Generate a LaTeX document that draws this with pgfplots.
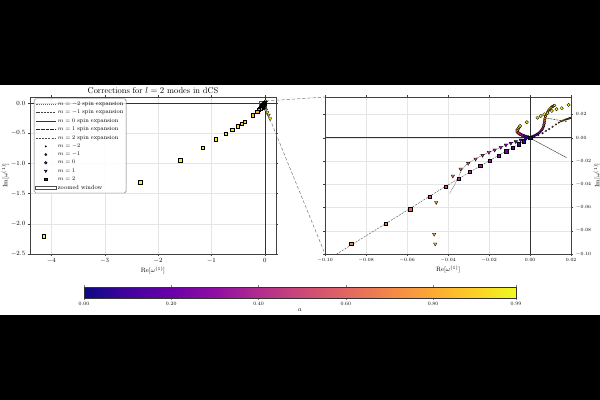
\documentclass[border=0pt]{standalone}
\usepackage{pgfplots}
\pgfplotsset{compat=1.18}
\usepackage{pgfplotstable}

\pgfplotsset{
  colormap={plasma}{rgb255=(13,8,135) rgb255=(65,4,157) rgb255=(106,0,168)
    rgb255=(143,13,164) rgb255=(177,42,144) rgb255=(204,71,120)
    rgb255=(225,100,98) rgb255=(242,132,75) rgb255=(252,166,54)
    rgb255=(252,206,37) rgb255=(240,249,33)},
  dcsbase/.style={
    scale only axis,
    width=307.5pt, height=196.25pt,
    grid=major,
    grid style={black!10, line width=0.3pt},
    axis line style={black!75, line width=0.5pt},
    tick style={black!75, line width=0.4pt},
    tick align=outside,
    major tick length=2.5pt,
    point meta min=0, point meta max=0.99,
    colormap name=plasma,
    clip=true,
  },
  pts/.style={scatter, only marks, forget plot, point meta=explicit,
    scatter/use mapped color={draw=black, fill=mapped color, line width=0.4pt}},
  sq/.style={pts, mark=square*, mark size=2.1pt},
  tri/.style={pts, mark=triangle*, mark size=2.5pt, mark options={rotate=180}},
  cir/.style={pts, mark=*, mark size=2.1pt},
  hex/.style={pts, mark=*, mark size=1.7pt},
  dot/.style={pts, mark=*, mark size=1.0pt},
  spm2/.style={black!60, dotted, line width=0.45pt},
  spm1/.style={black!75, dash pattern=on 2.5pt off 1.2pt, line width=0.7pt},
  spz/.style={black!80, line width=0.5pt},
  spp1/.style={black!85, densely dotted, line width=0.6pt},
  spp2/.style={black!70, dash pattern=on 2.5pt off 1.5pt, line width=0.5pt},
}

% m = 2, squares
\pgfplotstableread{
x y a
0 0 0
-0.0030 -0.0031 0.05
-0.0057 -0.0057 0.10
-0.0085 -0.0086 0.15
-0.0116 -0.0117 0.20
-0.0152 -0.0155 0.25
-0.0196 -0.0195 0.30
-0.0243 -0.0238 0.35
-0.0295 -0.0290 0.40
-0.0350 -0.0353 0.45
-0.0413 -0.0419 0.50
-0.0489 -0.0509 0.55
-0.0585 -0.0615 0.60
-0.0706 -0.0741 0.65
-0.0873 -0.0914 0.70
-0.110 -0.113 0.75
-0.141 -0.145 0.80
-0.226 -0.200 0.85
-0.381 -0.312 0.90
-0.439 -0.345 0.91
-0.509 -0.383 0.92
-0.613 -0.440 0.93
-0.735 -0.507 0.94
-0.915 -0.600 0.95
-1.166 -0.740 0.96
-1.586 -0.945 0.97
-2.334 -1.312 0.98
-4.145 -2.207 0.99
}\mtwo

% m = 1, triangles
\pgfplotstableread{
x y a
0 0 0
-0.0021 -0.0009 0.05
-0.0046 -0.0020 0.10
-0.0070 -0.0034 0.15
-0.0094 -0.0048 0.20
-0.0118 -0.0063 0.25
-0.0143 -0.0083 0.30
-0.0173 -0.0106 0.35
-0.0201 -0.0126 0.40
-0.0232 -0.0152 0.45
-0.0266 -0.0184 0.50
-0.0302 -0.0221 0.55
-0.0339 -0.0270 0.60
-0.0377 -0.0330 0.65
-0.0458 -0.0557 0.75
-0.0468 -0.0830 0.80
-0.0463 -0.0914 0.85
0.020 -0.117 0.90
0.045 -0.156 0.93
0.070 -0.200 0.96
0.100 -0.260 0.99
}\mone

% m = 0, circles
\pgfplotstableread{
x y a
0 0 0
-0.0010 0.0005 0.05
-0.0020 0.0010 0.10
-0.0030 0.0016 0.20
-0.0040 0.0022 0.30
-0.0049 0.0030 0.40
-0.0056 0.0038 0.50
-0.0061 0.0047 0.60
-0.0063 0.0057 0.70
-0.0062 0.0066 0.75
-0.0058 0.0077 0.80
-0.0054 0.0088 0.85
-0.0049 0.0101 0.90
-0.0016 0.0133 0.91
0.0036 0.0172 0.92
0.0052 0.0187 0.93
0.0069 0.0202 0.94
0.0085 0.0210 0.95
0.0106 0.0230 0.96
0.0129 0.0245 0.97
0.0154 0.0253 0.98
0.0188 0.0282 0.99
}\mzero

% m = -1
\pgfplotstableread{
x y a
0 0 0
0.0008 0.0006 0.05
0.0016 0.0013 0.10
0.0024 0.0020 0.15
0.0032 0.0028 0.20
0.0040 0.0037 0.25
0.0047 0.0047 0.30
0.0053 0.0058 0.35
0.0058 0.0070 0.40
0.0062 0.0083 0.45
0.0065 0.0096 0.50
0.0067 0.0110 0.55
0.0069 0.0124 0.60
0.0070 0.0138 0.65
0.0071 0.0152 0.70
0.0073 0.0167 0.75
0.0076 0.0183 0.80
0.0080 0.0203 0.85
0.0086 0.0222 0.90
0.0089 0.0232 0.91
0.0093 0.0242 0.92
0.0097 0.0250 0.93
0.0102 0.0258 0.94
0.0106 0.0264 0.95
0.0110 0.0268 0.96
0.0114 0.0272 0.97
0.0117 0.0275 0.98
0.0120 0.0278 0.99
}\mmone

% m = -2
\pgfplotstableread{
x y a
0 0 0
0.0020 0.0008 0.10
0.0040 0.0022 0.20
0.0061 0.0038 0.30
0.0077 0.0058 0.40
0.0093 0.0074 0.50
0.0110 0.0094 0.60
0.0126 0.0114 0.70
0.0140 0.0130 0.80
0.0150 0.0140 0.85
0.0158 0.0146 0.90
0.0165 0.0151 0.91
0.0171 0.0155 0.92
0.0176 0.0158 0.93
0.0180 0.0160 0.94
0.0184 0.0162 0.95
0.0188 0.0164 0.96
0.0191 0.0166 0.97
0.0194 0.0168 0.98
0.0197 0.0170 0.99
}\mmtwo

\newcommand{\spinlines}{%
  \addplot[spm2, forget plot] coordinates {(0,0) (0.006,0.0040) (0.012,0.0105) (0.0165,0.0150) (0.020,0.0175)};
  \addplot[spm1, forget plot] coordinates {(0.0085,0.0167) (0.0130,0.0153) (0.0178,0.0138)};
  \addplot[spz, forget plot] coordinates {(-0.0050,0.0043) (0,-0.0004) (0.0178,-0.0172)};
  \addplot[spp1, forget plot] coordinates {(0,0) (-0.0100,-0.0050) (-0.0200,-0.0125) (-0.0270,-0.0185) (-0.0310,-0.0230) (-0.0335,-0.0280) (-0.0348,-0.0336) (-0.0370,-0.0410) (-0.0392,-0.0479)};
  \addplot[spp2, forget plot] coordinates {(0,0) (-0.0196,-0.0195) (-0.0413,-0.0419) (-0.0706,-0.0741) (-0.0943,-0.1000)};
}
\newcommand{\allpoints}{%
  \addplot[dot] table[x=x, y=y, meta=a] {\mmtwo};
  \addplot[hex] table[x=x, y=y, meta=a] {\mmone};
  \addplot[cir] table[x=x, y=y, meta=a] {\mzero};
  \addplot[tri] table[x=x, y=y, meta=a] {\mone};
  \addplot[sq]  table[x=x, y=y, meta=a] {\mtwo};
}

\begin{document}
\begin{tikzpicture}
\fill[white] (0pt,0pt) rectangle (750pt,500pt);
\fill[black] (0pt,0pt) rectangle (750pt,106.25pt);
\fill[black] (0pt,393.75pt) rectangle (750pt,500pt);
\path[use as bounding box] (0pt,0pt) rectangle (750pt,500pt);

% ---- main panel
\begin{axis}[dcsbase,
  at={(37.5pt,182.5pt)}, anchor=south west,
  xmin=-4.4, xmax=0.21, ymin=-2.5, ymax=0.1,
  xtick={-4,-3,-2,-1,0}, ytick={-2.5,-2,-1.5,-1,-0.5,0},
  yticklabel style={/pgf/number format/fixed, /pgf/number format/fixed zerofill, /pgf/number format/precision=1},
  tick label style={font=\fontsize{8}{9}\selectfont},
  label style={font=\fontsize{8}{9}\selectfont},
  xlabel={$\mathrm{Re}[\omega^{(1)}]$}, ylabel={$\mathrm{Im}[\omega^{(1)}]$},
  xlabel style={yshift=3pt}, ylabel style={yshift=-4pt},
  title={Corrections for $l=2$ modes in dCS},
  title style={font=\fontsize{10.5}{12}\selectfont, yshift=-5pt},
  legend cell align=left,
  legend style={at={(0.016,0.99)}, anchor=north west,
    font=\fontsize{7.5}{8}\selectfont, draw=black!55, line width=0.5pt,
    rounded corners=2pt, fill=white, fill opacity=0.85, text opacity=1,
    row sep=0.2pt, inner sep=1.4pt},
  legend image code/.code={\draw[mark repeat=2,mark phase=2,#1] plot coordinates {(0cm,0cm) (0.45cm,0cm) (0.9cm,0cm)};},
]
\draw[black!80, line width=0.5pt] (axis cs:0,-3) -- (axis cs:0,1);
\draw[black!80, line width=0.5pt] (axis cs:-5,0) -- (axis cs:1,0);
\spinlines
\allpoints
\draw[black!70, line width=0.5pt] (axis cs:-0.1,-0.1) rectangle (axis cs:0.02,0.035);
\coordinate (zr1) at (axis cs:0.02,0.035);
\coordinate (zr2) at (axis cs:0.02,-0.1);

\addlegendimage{spm2}\addlegendentry{$m=-2$ spin expansion}
\addlegendimage{spm1}\addlegendentry{$m=-1$ spin expansion}
\addlegendimage{spz}\addlegendentry{$m=0$ spin expansion}
\addlegendimage{spp1}\addlegendentry{$m=1$ spin expansion}
\addlegendimage{spp2}\addlegendentry{$m=2$ spin expansion}
\addlegendimage{only marks, mark=*, mark size=0.9pt, draw=black, fill={rgb,255:red,13;green,8;blue,135}}\addlegendentry{$m=-2$}
\addlegendimage{only marks, mark=*, mark size=1.4pt, draw=black, fill={rgb,255:red,13;green,8;blue,135}}\addlegendentry{$m=-1$}
\addlegendimage{only marks, mark=*, mark size=1.8pt, draw=black, fill={rgb,255:red,13;green,8;blue,135}}\addlegendentry{$m=0$}
\addlegendimage{only marks, mark=triangle*, mark size=2pt, mark options={rotate=180}, draw=black, fill={rgb,255:red,13;green,8;blue,135}}\addlegendentry{$m=1$}
\addlegendimage{only marks, mark=square*, mark size=1.7pt, draw=black, fill={rgb,255:red,13;green,8;blue,135}}\addlegendentry{$m=2$}
\addlegendimage{legend image code/.code={\draw[black!70, fill=white, sharp corners] (0cm,-0.08cm) rectangle (0.9cm,0.08cm);}}\addlegendentry{zoomed window}
\end{axis}

% ---- zoomed panel
\begin{axis}[dcsbase,
  at={(406.25pt,182.5pt)}, anchor=south west,
  xmin=-0.1, xmax=0.02, ymin=-0.1, ymax=0.035,
  xtick={-0.1,-0.08,-0.06,-0.04,-0.02,0,0.02},
  ytick={-0.1,-0.08,-0.06,-0.04,-0.02,0,0.02},
  yticklabel pos=right,
  ticklabel style={/pgf/number format/fixed, /pgf/number format/fixed zerofill, /pgf/number format/precision=2},
  tick label style={font=\fontsize{6.5}{7}\selectfont},
  label style={font=\fontsize{8}{9}\selectfont},
  xlabel={$\mathrm{Re}[\omega^{(1)}]$}, ylabel={$\mathrm{Im}[\omega^{(1)}]$},
  xlabel style={yshift=3pt}, ylabel style={yshift=4pt},
]
\draw[black!80, line width=0.5pt] (axis cs:0,-1) -- (axis cs:0,1);
\draw[black!80, line width=0.5pt] (axis cs:-1,0) -- (axis cs:1,0);
\spinlines
\allpoints
\coordinate (in1) at (rel axis cs:0,1);
\coordinate (in2) at (rel axis cs:0,0);
\end{axis}

\draw[black!55, line width=0.6pt, dash pattern=on 4pt off 2.5pt] (zr1) -- (in1);
\draw[black!55, line width=0.6pt, dash pattern=on 4pt off 2.5pt] (zr2) -- (in2);

% ---- colour bar
\begin{axis}[
  scale only axis, at={(105pt,127.5pt)}, anchor=south west,
  width=540pt, height=13.75pt,
  xmin=0, xmax=0.99, ymin=0, ymax=1,
  ytick=\empty,
  xtick={0,0.2,0.4,0.6,0.8,0.99},
  xticklabels={0.00,0.20,0.40,0.60,0.80,0.99},
  tick label style={font=\fontsize{6.5}{7}\selectfont},
  tick align=outside, major tick length=2pt,
  axis line style={black!80, line width=0.6pt},
  xlabel={$a$}, xlabel style={font=\fontsize{8}{9}\selectfont, yshift=4pt},
  colormap name=plasma, point meta min=0, point meta max=0.99,
  axis on top,
]
\addplot[surf, shader=interp, point meta=x, mesh/rows=2, mesh/cols=12] table {
x y
0 0
0.09 0
0.18 0
0.27 0
0.36 0
0.45 0
0.54 0
0.63 0
0.72 0
0.81 0
0.90 0
0.99 0
0 1
0.09 1
0.18 1
0.27 1
0.36 1
0.45 1
0.54 1
0.63 1
0.72 1
0.81 1
0.90 1
0.99 1
};
\end{axis}
\end{tikzpicture}
\end{document}
